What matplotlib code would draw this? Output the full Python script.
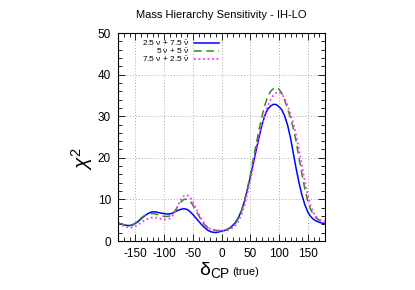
import matplotlib
matplotlib.use("Agg")
import matplotlib.pyplot as plt
from matplotlib.ticker import MultipleLocator
from matplotlib.lines import Line2D

plt.rcParams["font.family"] = ["Liberation Sans", "DejaVu Sans"]
plt.rcParams["mathtext.fontset"] = "custom"
plt.rcParams["mathtext.rm"] = "Liberation Sans"
plt.rcParams["mathtext.it"] = "Liberation Sans:italic"
plt.rcParams["mathtext.bf"] = "Liberation Sans:bold"
plt.rcParams["axes.unicode_minus"] = False

delta_cp = list(range(-180, 181, 5))

chi2_25_75 = [4.3, 4.1, 3.9, 3.75, 3.7, 3.8, 4.2, 4.7, 5.3, 5.9, 6.4, 6.8, 7.0, 7.0, 6.85,
              6.7, 6.6, 6.5, 6.5, 6.7, 7.1, 7.4, 7.65, 7.75, 7.6, 7.1, 6.4, 5.6, 4.8, 4.0,
              3.3, 2.7, 2.3, 2.1, 2.05, 2.15, 2.4,
              2.5, 2.8, 3.2, 3.8, 4.6, 5.8, 7.4, 9.6, 12.3, 15.3, 18.5, 21.7, 24.8, 27.7,
              30.0, 31.6, 32.4, 32.85, 32.8, 32.3, 31.5, 30.0, 27.8, 24.8, 21.0, 17.3, 13.9,
              11.0, 8.7, 7.0, 5.9, 5.2, 4.8, 4.5, 4.3, 4.2]

chi2_5_5 = [4.4, 4.15, 3.95, 3.8, 3.75, 3.9, 4.3, 4.9, 5.5, 6.0, 6.35, 6.55, 6.6, 6.5, 6.3,
            6.1, 5.95, 5.9, 6.0, 6.5, 7.4, 8.5, 9.5, 10.0, 10.05, 9.6, 8.7, 7.5, 6.2, 5.0,
            4.0, 3.3, 2.9, 2.7, 2.55, 2.5, 2.5,
            2.6, 2.8, 3.1, 3.6, 4.4, 5.6, 7.3, 9.6, 12.6, 15.8, 19.5, 23.0, 26.5, 29.8,
            32.5, 34.5, 35.9, 36.6, 36.8, 36.5, 35.5, 33.8, 31.8, 29.6, 27.0, 23.8, 19.8,
            16.0, 12.5, 9.6, 7.6, 6.3, 5.5, 5.0, 4.75, 4.6]

chi2_75_25 = [4.2, 3.9, 3.6, 3.35, 3.2, 3.25, 3.5, 3.9, 4.4, 4.85, 5.2, 5.5, 5.65, 5.65, 5.5,
              5.3, 5.2, 5.2, 5.4, 6.1, 7.3, 8.8, 10.1, 10.9, 11.1, 10.6, 9.5, 8.1, 6.6, 5.3,
              4.3, 3.5, 3.0, 2.75, 2.6, 2.5, 2.45,
              2.45, 2.55, 2.8, 3.2, 3.9, 4.9, 6.4, 8.6, 11.4, 14.5, 17.8, 21.2, 24.5, 27.6,
              30.2, 32.3, 33.9, 35.0, 35.6, 35.8, 35.3, 34.2, 32.5, 30.6, 28.3, 25.4, 21.8,
              18.0, 14.3, 11.0, 8.5, 6.8, 5.8, 5.2, 4.9, 4.7]

labels = [r"2.5 $\mathrm{\nu}$ + 7.5 $\bar{\mathrm{\nu}}$",
          r"5 $\mathrm{\nu}$ + 5 $\bar{\mathrm{\nu}}$",
          r"7.5 $\mathrm{\nu}$ + 2.5 $\bar{\mathrm{\nu}}$"]
colors = ["#0000ff", "#2e8b22", "#ff33ff"]
styles = [dict(ls="-", lw=1.1), dict(ls=(0, (5, 3)), lw=1.1), dict(ls=(0, (1, 1.5)), lw=1.3)]

fig = plt.figure(figsize=(4.15, 2.9), dpi=100)
ax = fig.add_axes([118/415, 1-241/290, 207/415, 208/290])

for ys, c, st in zip([chi2_25_75, chi2_5_5, chi2_75_25], colors, styles):
    ax.plot(delta_cp, ys, color=c, **st)

ax.set_xlim(-180, 180)
ax.set_ylim(0, 50)
ax.xaxis.set_major_locator(MultipleLocator(50))
ax.xaxis.set_minor_locator(MultipleLocator(10))
ax.yaxis.set_major_locator(MultipleLocator(10))
ax.yaxis.set_minor_locator(MultipleLocator(2))
ax.tick_params(which="both", direction="in", top=True, right=True, labelsize=8.5, width=0.6)
ax.tick_params(which="major", length=5, pad=5)
ax.tick_params(which="minor", length=3)
ax.grid(True, which="major", color="#aaaaaa", ls=(0, (1, 2)), lw=0.7)
for s in ax.spines.values():
    s.set_linewidth(0.8)

# legend (gnuplot style: right-aligned text, then sample)
ty = [0.953, 0.913, 0.873]
for lab, c, st, y in zip(labels, colors, styles, ty):
    ax.text(0.348, y, lab, transform=ax.transAxes, ha="right", va="center", fontsize=6)
    ax.add_line(Line2D([0.369, 0.488], [y, y], transform=ax.transAxes, color=c, **st))

fig.text(221/415, 1-15/290, "Mass Hierarchy Sensitivity - IH-LO", ha="center", va="center", fontsize=8)
fig.text(82/415, 1-158/290, r"$\chi^2$", rotation=90, ha="center", va="center", fontsize=15)
fig.text(230/415, 1-270/290, r"$\mathrm{\delta}_{\mathrm{CP}}$", ha="right", va="center", fontsize=14)
fig.text(232/415, 1-272/290, "(true)", ha="left", va="center", fontsize=8)

fig.savefig("out.png", dpi=100)
